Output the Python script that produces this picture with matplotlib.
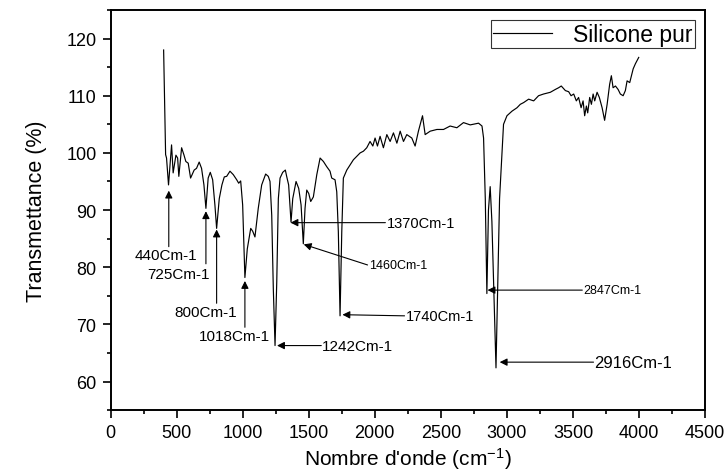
import matplotlib
matplotlib.use('Agg')

import matplotlib.pyplot as plt
from matplotlib.ticker import MultipleLocator

plt.rcParams['font.family'] = ['Liberation Sans', 'DejaVu Sans']
plt.rcParams['mathtext.fontset'] = 'custom'
plt.rcParams['mathtext.rm'] = 'Liberation Sans'
plt.rcParams['mathtext.it'] = 'Liberation Sans:italic'

# -------------------------
# Spectrum
# -------------------------
wavenumber = [
    402, 417, 424, 439, 455, 462, 474, 495, 508, 517, 538, 555, 570, 588, 606,
    633, 651, 671, 689, 707, 722, 739, 755, 773, 790, 803, 823, 843, 861, 879,
    904, 929, 955, 970, 985, 1000, 1017, 1035, 1061, 1076, 1093, 1118, 1144,
    1174, 1194, 1207, 1220, 1232, 1245, 1258, 1270, 1283, 1303, 1323, 1333,
    1348, 1366, 1379, 1404, 1424, 1442, 1459, 1472, 1485, 1500, 1515, 1535,
    1561, 1586, 1611, 1636, 1661, 1674, 1699, 1712, 1724, 1737, 1750, 1762,
    1788, 1813, 1838, 1864, 1889, 1914, 1939, 1964, 1985, 2002, 2020, 2040,
    2065, 2091, 2116, 2141, 2167, 2192, 2217, 2242, 2280, 2305, 2330, 2361,
    2381, 2419, 2470, 2520, 2570, 2621, 2671, 2722, 2785, 2811, 2823, 2836,
    2848, 2860, 2873, 2886, 2917, 2944, 2974, 3000, 3038, 3076, 3101, 3126,
    3164, 3202, 3239, 3277, 3328, 3366, 3391, 3411, 3442, 3467, 3485, 3505,
    3525, 3542, 3561, 3576, 3588, 3601, 3611, 3626, 3639, 3652, 3664, 3682,
    3699, 3720, 3739, 3758, 3777, 3790, 3803, 3821, 3841, 3858, 3879, 3896,
    3909, 3929, 3955, 3972, 3997,
]
transmittance = [
    118.0, 99.7, 99.1, 94.4, 99.1, 101.4, 96.5, 99.6, 99.1, 95.9, 100.9, 99.7,
    98.5, 98.2, 95.6, 97.0, 97.3, 98.4, 97.3, 94.4, 90.3, 95.6, 96.6, 95.3,
    90.9, 86.8, 92.0, 94.4, 95.8, 95.9, 96.8, 96.2, 95.3, 94.7, 95.1, 90.9,
    78.2, 83.2, 86.8, 86.3, 85.3, 90.3, 94.4, 96.3, 95.9, 95.0, 89.1, 76.2,
    66.3, 77.4, 92.0, 95.6, 96.6, 97.0, 95.9, 94.4, 87.9, 92.0, 95.0, 93.8,
    90.9, 84.1, 90.3, 93.5, 92.9, 91.5, 92.3, 96.2, 99.1, 98.5, 97.6, 96.8,
    95.6, 95.3, 93.2, 86.2, 71.5, 86.2, 95.6, 97.0, 97.9, 98.8, 99.4, 100.0,
    100.3, 100.9, 102.0, 101.2, 102.6, 101.2, 102.9, 100.9, 103.2, 102.0,
    103.5, 101.7, 103.8, 102.0, 103.2, 102.6, 101.2, 103.8, 106.5, 103.2,
    103.8, 104.1, 104.1, 104.7, 104.4, 105.3, 104.9, 105.2, 104.7, 102.6,
    92.0, 75.4, 90.0, 94.1, 88.0, 62.4, 92.0, 105.0, 106.5, 107.3, 107.9,
    108.5, 108.8, 109.4, 109.1, 110.0, 110.3, 110.6, 111.1, 111.4, 111.7,
    110.9, 110.7, 110.0, 110.3, 109.1, 109.7, 107.9, 109.1, 106.5, 108.2,
    107.0, 109.7, 108.5, 110.3, 109.1, 110.6, 109.7, 107.9, 105.7, 108.5,
    112.0, 113.5, 111.4, 111.7, 111.1, 110.3, 110.0, 110.9, 112.6, 112.3,
    114.7, 115.6, 116.7,
]

peak_labels = ["440Cm-1", "725Cm-1", "800Cm-1", "1018Cm-1", "1242Cm-1",
               "1370Cm-1", "1460Cm-1", "1740Cm-1", "2847Cm-1", "2916Cm-1"]

# -------------------------
# Plot
# -------------------------
fig = plt.figure(figsize=(7.27, 4.77), dpi=100)
ax = fig.add_axes([0.152, 0.138, 0.818, 0.839])

ax.plot(wavenumber, transmittance, color='black', linewidth=0.85,
        label='Silicone pur')

arrow = dict(arrowstyle='-|>', color='black', lw=0.8, mutation_scale=11,
             shrinkA=0, shrinkB=0)

# vertical arrows, text below
vert = [
    (0, 441, 93.4, 83.6, 423, 82.2, 11),
    (1, 722, 89.8, 80.6, 517, 78.8, 11),
    (2, 803, 86.6, 73.7, 718, 72.1, 11),
    (3, 1017, 77.6, 69.5, 938, 67.9, 11),
]
for i, hx, hy, ty, tx, tyt, fs in vert:
    ax.annotate('', xy=(hx, hy), xytext=(hx, ty), arrowprops=arrow)
    ax.text(tx, tyt, peak_labels[i], ha='center', va='center', fontsize=fs)

# horizontal / slanted arrows, text on the right
side = [
    (4, 1260, 66.3, 1595, 66.3, 11),
    (5, 1362, 87.8, 2080, 87.8, 10.5),
    (6, 1462, 84.0, 1945, 80.4, 9),
    (7, 1755, 71.7, 2225, 71.5, 10.5),
    (8, 2853, 76.0, 3570, 76.0, 9),
    (9, 2945, 63.4, 3655, 63.4, 12),
]
for i, hx, hy, tx, ty, fs in side:
    ax.annotate('', xy=(hx, hy), xytext=(tx, ty), arrowprops=arrow)
    ax.text(tx + 8, ty, peak_labels[i], ha='left', va='center', fontsize=fs)

ax.set_xlim(0, 4500)
ax.set_ylim(55, 125)
ax.xaxis.set_major_locator(MultipleLocator(500))
ax.xaxis.set_minor_locator(MultipleLocator(250))
ax.yaxis.set_minor_locator(MultipleLocator(5))
ax.set_yticks(range(60, 121, 10))

ax.tick_params(which='major', direction='out', length=6, width=1.2,
               labelsize=13, pad=4)
ax.tick_params(which='minor', direction='out', length=3, width=1.2)
for s in ax.spines.values():
    s.set_linewidth(1.4)

ax.set_xlabel(r"Nombre d'onde (cm$^{-1}$)", fontsize=15, labelpad=3)
ax.set_ylabel("Transmettance (%)", fontsize=15.5, labelpad=14)

leg = ax.legend(loc='upper right', fontsize=16.5, frameon=True, fancybox=False,
                edgecolor='black', handlelength=2.6, borderaxespad=0.45,
                borderpad=0.1, handletextpad=0.9)
leg.get_frame().set_linewidth(0.8)

plt.savefig("out.png", dpi=100)
